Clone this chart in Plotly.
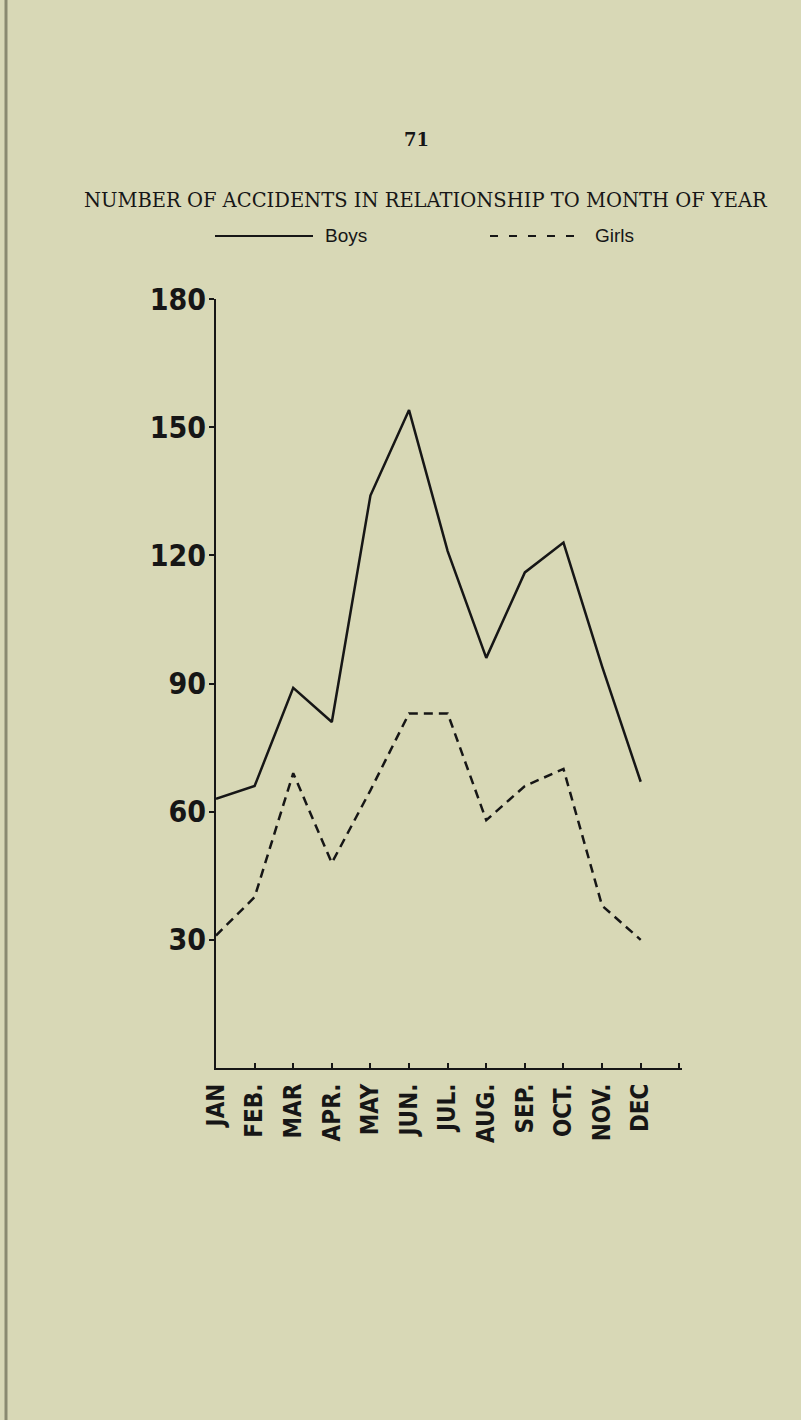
import plotly.graph_objects as go

months = ["JAN", "FEB.", "MAR", "APR.", "MAY", "JUN.", "JUL.", "AUG.", "SEP.", "OCT.", "NOV.", "DEC"]
boys = [63, 66, 89, 81, 134, 154, 121, 96, 116, 123, 94, 67]
girls = [31, 40, 69, 48, 65, 83, 83, 58, 66, 70, 38, 30]
y_ticks = [30, 60, 90, 120, 150, 180]

x_pos = list(range(len(months)))
BG = "#d8d8b6"
INK = "#161616"
NARROW = "DejaVu Sans Condensed, Liberation Sans Narrow, Arial Narrow, sans-serif"
SERIF = "DejaVu Serif, Liberation Serif, serif"

fig = go.Figure()
fig.add_trace(go.Scatter(x=x_pos, y=boys, mode="lines", name="Boys",
                         line=dict(color=INK, width=2.5), showlegend=False))
fig.add_trace(go.Scatter(x=x_pos, y=girls, mode="lines", name="Girls",
                         line=dict(color=INK, width=2.5, dash="9px,6px"), showlegend=False))

W, H = 801, 1420
L, R, T, B = 216, 119, 299, 352

fig.update_layout(
    width=W, height=H,
    margin=dict(l=L, r=R, t=T, b=B),
    paper_bgcolor=BG, plot_bgcolor=BG,
    showlegend=False,
    xaxis=dict(range=[0, 12.07], showgrid=False, zeroline=False,
               showline=True, linecolor=INK, linewidth=2,
               tickmode="array", tickvals=x_pos, ticktext=months,
               ticks="", tickangle=-90, ticklabelstandoff=4,
               tickfont=dict(family=NARROW, size=24, color=INK, weight="bold"),
               minor=dict(tickmode="array", tickvals=list(range(1, 13)),
                          ticks="inside", ticklen=5, tickwidth=1.5, tickcolor=INK)),
    yaxis=dict(range=[0, 180], showgrid=False, zeroline=False,
               showline=True, linecolor=INK, linewidth=2,
               tickmode="array", tickvals=y_ticks,
               ticktext=[str(v) for v in y_ticks],
               ticks="outside", ticklen=5, tickwidth=1.5, tickcolor=INK,
               ticklabelstandoff=-3,
               tickfont=dict(family=NARROW, size=30, color=INK, weight="bold")),
)

pw = W - L - R
ph = H - T - B
def px(xp):
    return (xp - L) / pw
def py(yp):
    return (H - B - yp) / ph

fig.add_annotation(text="71", x=px(416), y=py(139), xref="paper", yref="paper",
                   showarrow=False, xanchor="center", yanchor="middle",
                   font=dict(family=SERIF, size=18, color=INK, weight="bold"))
fig.add_annotation(text="NUMBER OF ACCIDENTS IN RELATIONSHIP TO MONTH OF YEAR",
                   x=px(425.5), y=py(200), xref="paper", yref="paper",
                   showarrow=False, xanchor="center", yanchor="middle",
                   font=dict(family=SERIF, size=19.5, color=INK))
# legend
fig.add_shape(type="line", xref="paper", yref="paper",
              x0=px(215), x1=px(313), y0=py(236), y1=py(236),
              line=dict(color=INK, width=1.8))
fig.add_annotation(text="Boys", x=px(323), y=py(236), xref="paper", yref="paper",
                   showarrow=False, xanchor="left", yanchor="middle",
                   font=dict(family="Liberation Sans, Arial, sans-serif", size=19, color=INK))
fig.add_shape(type="line", xref="paper", yref="paper",
              x0=px(490), x1=px(580), y0=py(236), y1=py(236),
              line=dict(color=INK, width=1.8, dash="8px,11px"))
fig.add_annotation(text="Girls", x=px(593), y=py(236), xref="paper", yref="paper",
                   showarrow=False, xanchor="left", yanchor="middle",
                   font=dict(family="Liberation Sans, Arial, sans-serif", size=19, color=INK))
# binding edge
fig.add_shape(type="line", xref="paper", yref="paper",
              x0=px(6), x1=px(6), y0=py(0), y1=py(H),
              line=dict(color="#8a8a70", width=3))

fig.write_html("out.html", config={"displayModeBar": False},
               post_script="document.body.style.margin='0px';document.body.style.background='" + BG + "';")
